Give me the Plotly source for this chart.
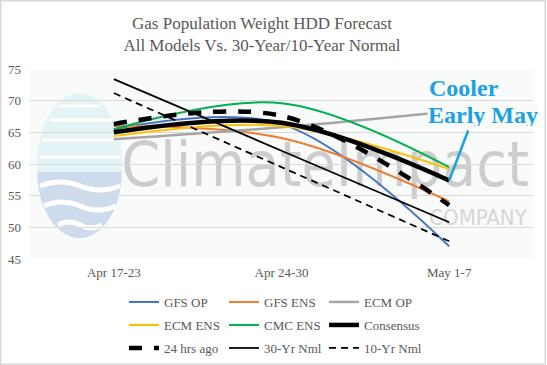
import plotly.graph_objects as go

# ---------------- data ----------------
periods = ["Apr 17-23", "Apr 24-30", "May 1-7"]
gfs_op = [65.5, 66.3, 47.0]
gfs_ens = [66.0, 64.1, 54.1]
ecm_op = [63.9, 65.8, 68.3]
ecm_ens = [64.4, 66.0, 59.2]
cmc_ens = [65.5, 69.6, 59.5]
consensus = [65.0, 66.5, 57.4]
hrs24_ago = [66.3, 67.6, 53.5]
nml_30yr = [73.4, 62.1, 50.8]
nml_10yr = [71.2, 59.5, 47.8]
y_ticks = [45, 50, 55, 60, 65, 70, 75]

# ---------------- geometry helpers (decoration only) ----------------
W_FIG, H_FIG = 547, 365
ML, MR, MT, MB = 30, 14, 69, 106
PW = W_FIG - ML - MR
PH = H_FIG - MT - MB


def px(x):
    return (x - ML) / PW


def py(y):
    return (MT + PH - y) / PH


SERIF = "Liberation Serif"
NARROW = "Liberation Sans Narrow, DejaVu Sans Condensed, Liberation Sans, sans-serif"
TXT = "#595959"

series = [
    ("GFS OP", gfs_op, dict(color="#4472C4", width=2), "legend"),
    ("GFS ENS", gfs_ens, dict(color="#ED7D31", width=2), "legend"),
    ("ECM OP", ecm_op, dict(color="#A5A5A5", width=2.5), "legend"),
    ("ECM ENS", ecm_ens, dict(color="#FFC000", width=2), "legend2"),
    ("CMC ENS", cmc_ens, dict(color="#00B050", width=2), "legend2"),
    ("Consensus", consensus, dict(color="#000000", width=4.5), "legend2"),
    ("24 hrs ago", hrs24_ago, dict(color="#000000", width=4.5, dash="13px,12px"), "legend3"),
    ("30-Yr Nml", nml_30yr, dict(color="#000000", width=1.75), "legend3"),
    ("10-Yr Nml", nml_10yr, dict(color="#000000", width=1.75, dash="7px,5px"), "legend3"),
]

fig = go.Figure()
for name, vals, line, leg in series:
    fig.add_trace(go.Scatter(
        x=periods, y=vals, name=name, mode="lines",
        line=dict(shape="spline", smoothing=1, **line),
        legend=leg, hoverinfo="skip",
    ))

# ---------------- watermark (decoration) ----------------
shapes = []
cx, cy, rx, ry = 79.5, 165.5, 42.5, 72.5
shapes.append(dict(type="circle", xref="paper", yref="paper", layer="below",
                   x0=px(cx - rx), x1=px(cx + rx), y0=py(cy + ry), y1=py(cy - ry),
                   fillcolor="#E4F4F6", line=dict(width=0)))
k = 0.5523
yb = 172
rx2, ry2 = 42.2, (cy + ry) - yb
path = ("M {a},{b} C {c},{d} {e},{f} {g},{h} C {i},{j} {m},{n} {o},{p} Z").format(
    a=px(cx - rx2), b=py(yb),
    c=px(cx - rx2), d=py(yb + k * ry2), e=px(cx - k * rx2), f=py(yb + ry2), g=px(cx), h=py(yb + ry2),
    i=px(cx + k * rx2), j=py(yb + ry2), m=px(cx + rx2), n=py(yb + k * ry2), o=px(cx + rx2), p=py(yb))
shapes.append(dict(type="path", xref="paper", yref="paper", layer="below", path=path,
                   fillcolor="#CDDBEC", line=dict(width=0)))
for (x0, x1, yy, amp) in [(40, 120, 186, 4), (44, 116, 206, 4), (58, 102, 225, 3)]:
    xm1 = x0 + (x1 - x0) / 4
    xm2 = x0 + 3 * (x1 - x0) / 4
    wp = "M {a},{b} Q {c},{d} {e},{f} Q {g},{h} {i},{j}".format(
        a=px(x0), b=py(yy), c=px(xm1), d=py(yy - amp * 2), e=px((x0 + x1) / 2), f=py(yy),
        g=px(xm2), h=py(yy + amp * 2), i=px(x1), j=py(yy))
    shapes.append(dict(type="path", xref="paper", yref="paper", layer="below", path=wp,
                       line=dict(color="white", width=5)))
for (x0, x1, yy) in [(60, 100, 106), (50, 112, 120), (42, 118, 140), (40, 120, 157)]:
    shapes.append(dict(type="line", xref="paper", yref="paper", layer="below",
                       x0=px(x0), x1=px(x1), y0=py(yy), y1=py(yy),
                       line=dict(color="white", width=3)))
shapes.append(dict(type="rect", xref="paper", yref="paper", layer="below",
                   x0=px(125), x1=px(525), y0=py(205), y1=py(115),
                   line=dict(width=0), fillcolor="rgba(0,0,0,0)",
                   label=dict(text="ClimateImpact", textposition="middle center",
                              font=dict(family=NARROW, size=62, color="#CDCDCD"))))
shapes.append(dict(type="rect", xref="paper", yref="paper", layer="below",
                   x0=px(428), x1=px(528), y0=py(232), y1=py(198),
                   line=dict(width=0), fillcolor="rgba(0,0,0,0)",
                   label=dict(text="COMPANY", textposition="middle center",
                              font=dict(family=NARROW, size=22, color="#D6D6D6"))))

# outer chart frame
shapes.append(dict(type="rect", xref="paper", yref="paper", layer="above",
                   x0=px(0.75), x1=px(W_FIG - 1.75), y0=py(H_FIG - 0.75), y1=py(0.75),
                   line=dict(color="#D9D9D9", width=1.5)))

# blue callout line from consensus end towards the text
shapes.append(dict(type="line", xref="x", yref="y",
                   xsizemode="pixel", xanchor=len(periods) - 1, x0=0, x1=19,
                   ysizemode="pixel", yanchor=consensus[-1], y0=0, y1=50,
                   line=dict(color="#1BA1E2", width=2.5)))

annotations = [
    dict(text="<b>Cooler</b>", xref="paper", yref="paper", x=px(427), y=py(88),
         xanchor="left", yanchor="middle", showarrow=False,
         font=dict(family=SERIF, size=24, color="#1BA1E2")),
    dict(text="<b>Early May</b>", xref="paper", yref="paper", x=px(427), y=py(115),
         xanchor="left", yanchor="middle", showarrow=False, height=22, borderpad=0,
         bgcolor="#F9FAFA",
         font=dict(family=SERIF, size=24, color="#1BA1E2")),
]

legend_common = dict(orientation="h", xanchor="left", yanchor="middle",
                     entrywidth=55, itemwidth=30, bgcolor="rgba(0,0,0,0)",
                     font=dict(family=SERIF, size=13, color=TXT), tracegroupgap=0)

fig.update_layout(
    width=W_FIG, height=H_FIG,
    margin=dict(l=ML, r=MR, t=MT, b=MB, autoexpand=False),
    paper_bgcolor="white", plot_bgcolor="#F9FAFA",
    font=dict(family=SERIF, color=TXT),
    title=dict(text="Gas Population Weight HDD Forecast<br>All Models Vs. 30-Year/10-Year Normal",
               x=262 / W_FIG, xref="container", xanchor="center",
               y=1 - 29 / H_FIG, yref="container", yanchor="top",
               font=dict(family=SERIF, size=17, color=TXT)),
    xaxis=dict(type="category", range=[-0.5, len(periods) - 0.5], showgrid=False,
               showline=False, zeroline=False, ticks="",
               tickfont=dict(family=SERIF, size=13, color=TXT), ticklabelstandoff=4),
    yaxis=dict(range=[y_ticks[0], y_ticks[-1]], tickvals=y_ticks, showgrid=True,
               gridcolor="#D9D9D9", gridwidth=1, zeroline=False, showline=False, ticks="",
               tickfont=dict(family=SERIF, size=13, color=TXT), ticklabelstandoff=8),
    legend=dict(x=px(124), y=py(302), **legend_common),
    legend2=dict(x=px(124), y=py(325), **legend_common),
    legend3=dict(x=px(124), y=py(348), **legend_common),
    shapes=shapes, annotations=annotations,
    showlegend=True,
)

fig.write_html("out.html", config={"displayModeBar": False},
               post_script="document.body.style.margin='0';document.body.style.padding='0';")
